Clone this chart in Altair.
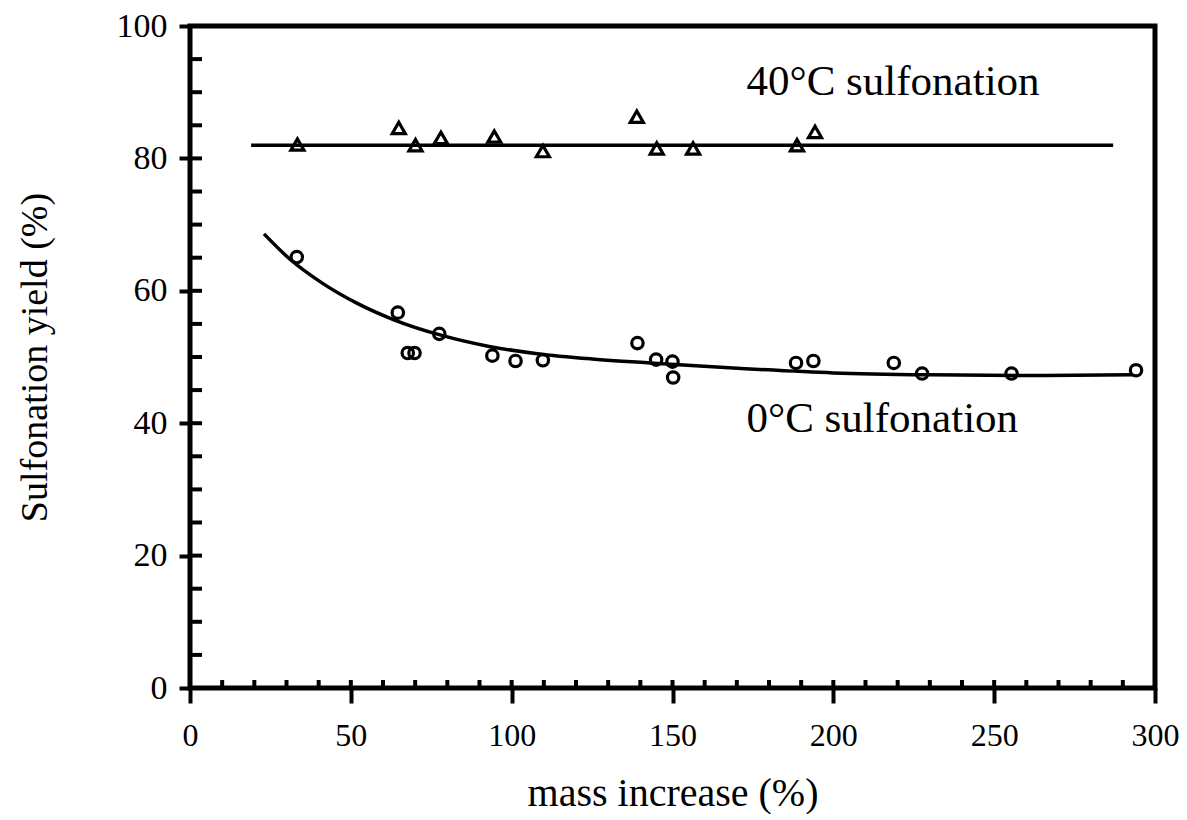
import altair as alt
import pandas as pd

# 40°C sulfonation (triangles)
tri_x = [33.4, 64.9, 70.1, 78.0, 94.6, 109.7, 138.9, 145.1, 156.4, 188.7, 194.3]
tri_y = [82.1, 84.6, 82.0, 83.1, 83.3, 81.1, 86.3, 81.5, 81.5, 82.0, 84.0]
# 0°C sulfonation (circles)
circ_x = [33.2, 64.6, 67.7, 69.8, 77.5, 94.0, 101.2, 109.7, 139.1, 144.9, 150.0, 150.2,
          188.4, 193.8, 218.8, 227.6, 255.4, 294.1]
circ_y = [65.1, 56.7, 50.6, 50.6, 53.5, 50.2, 49.4, 49.5, 52.1, 49.6, 49.3, 46.9,
          49.1, 49.4, 49.1, 47.5, 47.5, 48.0]
# fitted lines
fit40_x = [19, 287]
fit40_y = [82.0, 82.0]
fit0_x = [23, 31, 41, 52, 63, 78, 93, 108, 125, 143, 174, 200, 230, 260, 293]
fit0_y = [68.6, 64.8, 61.2, 58.1, 55.7, 53.3, 51.6, 50.5, 49.7, 49.1, 48.2, 47.6, 47.3, 47.2, 47.3]
# annotations
ann_text = ["40°C sulfonation", "0°C sulfonation"]
ann_x = [173.0, 173.0]
ann_y = [91.6, 40.7]
# tick values
x_major = [0, 50, 100, 150, 200, 250, 300]
y_major = [0, 20, 40, 60, 80, 100]
x_inner = list(range(10, 300, 10))
y_inner = list(range(5, 100, 5))

FONT = "Liberation Serif"

xs = alt.Scale(domain=[0, 300], nice=False, zero=False)
ys = alt.Scale(domain=[0, 100], nice=False, zero=False)

x_axis = alt.Axis(values=x_major, grid=False, domain=False, tickColor="black", tickWidth=4,
                  tickSize=15, labelFont=FONT, labelFontSize=32, labelColor="black",
                  labelPadding=17, labelFlush=False, labelOverlap=False,
                  title="mass increase (%)", titleFont=FONT, titleFontSize=40,
                  titleFontWeight="normal", titleColor="black", titlePadding=22)
y_axis = alt.Axis(values=y_major, grid=False, domain=False, tickColor="black", tickWidth=4,
                  tickSize=11, labelFont=FONT, labelFontSize=34, labelColor="black",
                  labelPadding=12, labelFlush=False, labelOverlap=False,
                  title="Sulfonation yield (%)", titleFont=FONT, titleFontSize=38,
                  titleFontWeight="normal", titleColor="black", titlePadding=62)

tri_df = pd.DataFrame({"x": tri_x, "y": tri_y})
circ_df = pd.DataFrame({"x": circ_x, "y": circ_y})
fit40_df = pd.DataFrame({"x": fit40_x, "y": fit40_y})
fit0_df = pd.DataFrame({"x": fit0_x, "y": fit0_y})
ann_df = pd.DataFrame({"x": ann_x, "y": ann_y, "t": ann_text})
xin_df = pd.DataFrame({"x": x_inner})
yin_df = pd.DataFrame({"y": y_inner})

X = alt.X("x:Q", scale=xs, axis=x_axis)
Y = alt.Y("y:Q", scale=ys, axis=y_axis)

line40 = alt.Chart(fit40_df).mark_line(color="black", strokeWidth=3.5).encode(x=X, y=Y)
line0 = alt.Chart(fit0_df).mark_line(color="black", strokeWidth=3.5,
                                     interpolate="monotone").encode(x=X, y=Y)
tri = alt.Chart(tri_df).mark_point(shape="triangle-up", filled=False, color="black",
                                   size=170, strokeWidth=3.2, opacity=1).encode(x=X, y=Y)
circ = alt.Chart(circ_df).mark_point(shape="circle", filled=False, color="black",
                                     size=130, strokeWidth=3.2, opacity=1).encode(x=X, y=Y)
ann = alt.Chart(ann_df).mark_text(font=FONT, fontSize=43, align="left", baseline="middle",
                                  color="black").encode(x=X, y=Y, text="t:N")
xin = alt.Chart(xin_df).mark_tick(orient="vertical", color="black", size=8, thickness=4,
                                  yOffset=-4, opacity=1).encode(
    x=X, y=alt.YDatum(0, scale=ys, axis=y_axis))
yin = alt.Chart(yin_df).mark_tick(orient="horizontal", color="black", size=12, thickness=4,
                                  xOffset=6, opacity=1).encode(
    y=Y, x=alt.XDatum(0, scale=xs, axis=x_axis))

chart = alt.layer(line40, line0, tri, circ, ann, xin, yin).properties(
    width=965, height=662,
    autosize=alt.AutoSizeParams(type="none"),
    padding={"left": 182, "top": 18, "right": 24, "bottom": 126},
).configure(background="white").configure_view(stroke="black", strokeWidth=5)

chart.save("out.html", embed_options={"renderer": "svg", "actions": False})
